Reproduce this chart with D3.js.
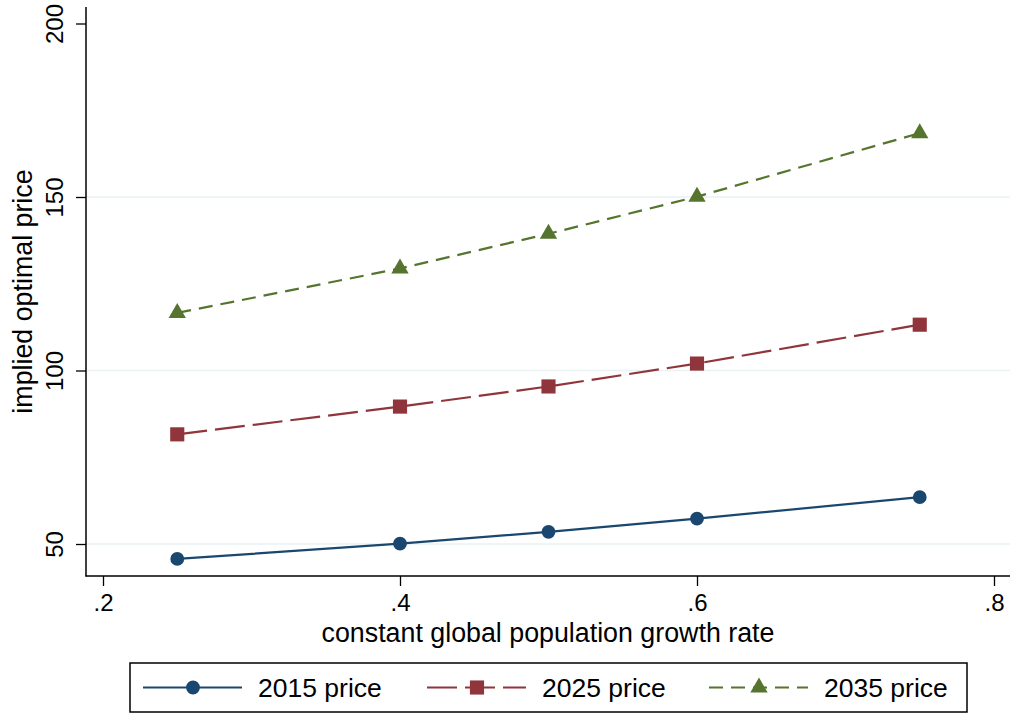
<!DOCTYPE html>
<html><head><meta charset="utf-8">
<script src="https://cdn.jsdelivr.net/npm/d3@7"></script>
<style>
body{margin:0;background:#fff;}
svg{display:block;font-family:"Liberation Sans",Arial,sans-serif;}
</style></head>
<body><svg id="c" width="1013" height="715"></svg>
<script>
const growthRates = [0.25, 0.4, 0.5, 0.6, 0.75];
const price2015 = [45.7, 50.1, 53.5, 57.3, 63.5];
const price2025 = [81.6, 89.6, 95.4, 102.0, 113.2];
const price2035 = [116.6, 129.4, 139.4, 150.1, 168.4];
const xTicks = [0.2, 0.4, 0.6, 0.8];
const xTickLabels = [".2", ".4", ".6", ".8"];
const yTicks = [50, 100, 150, 200];
const yGrid = [50, 100, 150];
const seriesNames = ["2015 price", "2025 price", "2035 price"];

const svg = d3.select("#c");
const L = 86, R = 1010, T = 7, B = 576;
const x = d3.scaleLinear().domain([0.2, 0.8]).range([103, 994]);
const y = d3.scaleLinear().domain([50, 200]).range([544, 23.5]);

// gridlines
svg.append("g").selectAll("line").data(yGrid).join("line")
  .attr("x1", L).attr("x2", R).attr("y1", d => y(d)).attr("y2", d => y(d))
  .attr("stroke", "#eaf2f3").attr("stroke-width", 1.6);

// axes
const xAxis = svg.append("g").attr("transform", `translate(0,${B})`)
  .call(d3.axisBottom(x).tickValues(xTicks).tickFormat((d, i) => xTickLabels[i]).tickSize(10).tickPadding(8));
xAxis.select(".domain").remove();
xAxis.selectAll(".tick line").attr("stroke", "#000").attr("stroke-width", 1.3);
xAxis.selectAll(".tick text").attr("font-size", 24).attr("fill", "#000")
  .attr("font-family", "Liberation Sans, Arial, sans-serif");
svg.append("line").attr("x1", L - 0.5).attr("x2", R).attr("y1", B).attr("y2", B)
  .attr("stroke", "#000").attr("stroke-width", 1.5);

const yAxis = svg.append("g").attr("transform", `translate(${L},0)`)
  .call(d3.axisLeft(y).tickValues(yTicks).tickSize(10).tickFormat(d3.format("d")));
yAxis.select(".domain").remove();
yAxis.selectAll(".tick line").attr("stroke", "#000").attr("stroke-width", 1.3);
yAxis.selectAll(".tick text").remove();
yAxis.selectAll(".tick").append("text")
  .attr("transform", "translate(-23,0) rotate(-90)")
  .attr("text-anchor", "middle").attr("font-size", 24).attr("fill", "#000")
  .text(d => d);
svg.append("line").attr("x1", L).attr("x2", L).attr("y1", T).attr("y2", B + 0.5)
  .attr("stroke", "#000").attr("stroke-width", 1.5);

// axis titles
svg.append("text").attr("x", (L + R) / 2).attr("y", 642).attr("text-anchor", "middle")
  .attr("font-size", 26.8).text("constant global population growth rate");
svg.append("text").attr("transform", `translate(32,${(T + B) / 2}) rotate(-90)`)
  .attr("text-anchor", "middle").attr("font-size", 26.8).text("implied optimal price");

// series
const series = [
  {name: seriesNames[0], vals: price2015, color: "#1a476f", dash: null, sym: d3.symbolCircle, size: 150},
  {name: seriesNames[1], vals: price2025, color: "#90353b", dash: "30,8", sym: d3.symbolSquare, size: 200},
  {name: seriesNames[2], vals: price2035, color: "#55752f", dash: "14,8", sym: d3.symbolTriangle, size: 130}
];
const line = d3.line().x(d => x(d[0])).y(d => y(d[1]));
series.forEach(s => {
  const pts = growthRates.map((g, i) => [g, s.vals[i]]);
  svg.append("path").datum(pts).attr("d", line).attr("fill", "none")
    .attr("stroke", s.color).attr("stroke-width", 2.2)
    .attr("stroke-dasharray", s.dash);
  svg.append("g").selectAll("path").data(pts).join("path")
    .attr("transform", d => `translate(${x(d[0])},${y(d[1])})`)
    .attr("d", d3.symbol().type(s.sym).size(s.size)).attr("fill", s.color);
});

// legend
svg.append("rect").attr("x", 130).attr("y", 663).attr("width", 837).attr("height", 49)
  .attr("fill", "#fff").attr("stroke", "#000").attr("stroke-width", 1.5);
const legX = [143, 427, 709];
series.forEach((s, i) => {
  const g = svg.append("g").attr("transform", `translate(${legX[i]},687.5)`);
  g.append("line").attr("x1", 0).attr("x2", 99).attr("y1", 0).attr("y2", 0)
    .attr("stroke", s.color).attr("stroke-width", 2.2).attr("stroke-dasharray", s.dash);
  g.append("path").attr("transform", "translate(50,0)")
    .attr("d", d3.symbol().type(s.sym).size(s.size)).attr("fill", s.color);
  g.append("text").attr("x", 115).attr("y", 9.5).attr("font-size", 26.5).text(s.name);
});
</script></body></html>
